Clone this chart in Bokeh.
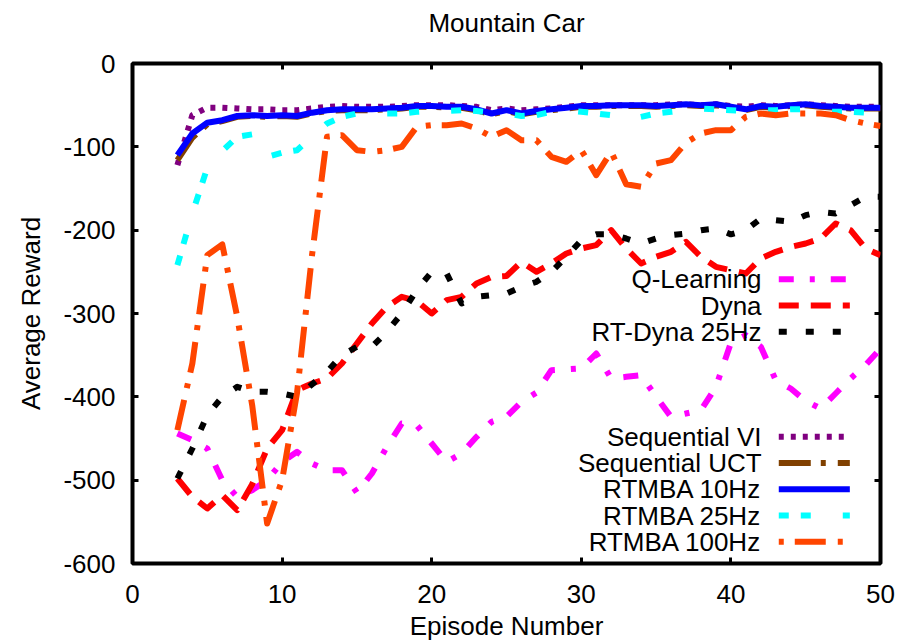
from bokeh.plotting import figure
from bokeh.models import LinearAxis, Range1d, FixedTicker, Label, CustomJSTickFormatter
from bokeh.core.properties import value
from bokeh.embed import file_html
from bokeh.resources import INLINE

FONT = "Liberation Sans"
FS = "26px"

episodes = list(range(3, 51))

q_learning = [-444, -452, -462, -500, -520, -512, -500, -478, -466, -480, -488, -488,
              -515, -492, -460, -432, -434, -456, -478, -468, -448, -430, -424, -406,
              -395, -368, -367, -366, -348, -378, -376, -374, -400, -424, -420, -416,
              -388, -335, -326, -340, -380, -390, -405, -414, -396, -378, -362, -342]

dyna = [-498, -520, -534, -518, -536, -505, -462, -440, -392, -384, -378, -360,
        -336, -312, -292, -280, -285, -300, -284, -280, -264, -256, -255, -238,
        -250, -240, -228, -222, -218, -200, -222, -240, -232, -226, -214, -232,
        -244, -248, -252, -234, -226, -220, -216, -210, -192, -200, -222, -230]

rt_dyna = [-498, -462, -422, -400, -388, -394, -394, -396, -400, -385, -370, -350,
           -340, -340, -322, -300, -272, -250, -252, -288, -280, -278, -276, -268,
           -262, -250, -232, -212, -205, -205, -210, -216, -210, -206, -204, -200,
           -198, -205, -200, -186, -188, -190, -182, -178, -180, -170, -160, -160]

seq_vi = [-122, -62, -53, -53, -54, -55, -55, -56, -56, -54, -52, -51,
          -52, -52, -52, -51, -50, -50, -50, -51, -52, -56, -54, -56,
          -55, -54, -52, -50, -50, -50, -50, -50, -50, -49, -49, -50,
          -49, -51, -52, -50, -51, -50, -49, -50, -51, -52, -52, -52]

seq_uct = [-116, -89, -73, -69, -64, -63, -64, -63, -64, -60, -57, -56,
           -56, -56, -55, -54, -52, -52, -53, -53, -56, -61, -57, -61,
           -58, -56, -54, -52, -52, -51, -51, -51, -52, -51, -50, -51,
           -50, -53, -56, -52, -53, -51, -50, -52, -53, -54, -54, -54]

rtmba_10 = [-110, -84, -71, -68, -63, -62, -63, -62, -63, -59, -56, -55,
            -55, -55, -54, -53, -51, -51, -52, -52, -55, -60, -56, -60,
            -57, -55, -53, -51, -51, -50, -50, -50, -51, -50, -49, -50,
            -49, -52, -55, -51, -52, -50, -49, -51, -52, -53, -53, -53]

rtmba_25 = [-242, -180, -125, -105, -88, -85, -112, -107, -104, -88, -72, -64,
            -60, -60, -60, -60, -58, -57, -57, -56, -57, -59, -60, -63,
            -62, -58, -56, -58, -60, -62, -68, -64, -60, -58, -56, -54,
            -55, -56, -57, -56, -56, -55, -55, -57, -58, -58, -59, -59]

rtmba_100 = [-440, -360, -230, -217, -304, -410, -552, -500, -395, -230, -88, -86,
             -104, -106, -104, -100, -76, -74, -74, -72, -78, -88, -80, -92,
             -92, -112, -118, -104, -134, -106, -145, -148, -120, -116, -95, -84,
             -80, -80, -64, -60, -62, -60, -60, -60, -62, -68, -72, -75]

x_tick_values = [0, 10, 20, 30, 40, 50]
y_tick_values = [-600, -500, -400, -300, -200, -100, 0]

top_labels = ["Q-Learning", "Dyna", "RT-Dyna 25Hz"]
bottom_labels = ["Sequential VI", "Sequential UCT", "RTMBA 10Hz", "RTMBA 25Hz", "RTMBA 100Hz"]

# (values, colour, dash pattern, key dash offset) in drawing order
series = [
    (q_learning, "#ff00ff", "15 16 5 16", 0),
    (dyna, "#ff0000", "20 12", 0),
    (rt_dyna, "#000000", "8 19", 0),
    (seq_vi, "#800080", "5 7", 0),
    (seq_uct, "#804000", "32 10 5 12", 0),
    (rtmba_10, "#0000ff", "solid", 0),
    (rtmba_25, "#00ffff", "10 12 10 32", 0),
    (rtmba_100, "#ff4500", "31 12 5 11", 43),
]
LINE_W = 6

p = figure(width=902, height=644, output_backend="svg", toolbar_location=None,
           x_range=Range1d(0, 50), y_range=Range1d(-600, 0),
           min_border_left=132, min_border_right=22, min_border_top=63,
           min_border_bottom=81, x_axis_label="Episode Number",
           y_axis_label="Average Reward")

p.grid.visible = False
p.outline_line_color = "black"
p.outline_line_width = 4
p.background_fill_color = "white"
p.border_fill_color = "white"

x_ticks = FixedTicker(ticks=x_tick_values)
y_ticks = FixedTicker(ticks=y_tick_values)

for ax in (p.xaxis[0], p.yaxis[0]):
    ax.axis_line_color = None
    ax.major_tick_in = 6
    ax.major_tick_out = 0
    ax.major_tick_line_width = 3
    ax.minor_tick_line_color = None
    ax.major_label_text_font = FONT
    ax.major_label_text_font_size = FS
    ax.major_label_text_color = "black"
    ax.axis_label_text_font = FONT
    ax.axis_label_text_font_size = FS
    ax.axis_label_text_font_style = "normal"
    ax.axis_label_text_color = "black"
p.xaxis[0].ticker = x_ticks
p.yaxis[0].ticker = y_ticks
# plain hyphen-minus in the tick labels
p.yaxis[0].major_label_overrides = {v: str(v) for v in y_tick_values}
p.xaxis[0].major_label_standoff = 21
p.xaxis[0].axis_label_standoff = 5
p.yaxis[0].major_label_standoff = 17
p.yaxis[0].axis_label_standoff = 14

# mirrored tick marks on the top and right edges, without labels
for loc, tk in (("above", x_ticks), ("right", y_ticks)):
    ax = LinearAxis(ticker=tk, axis_line_color=None, major_tick_in=6,
                    major_tick_out=0, major_tick_line_width=3,
                    minor_tick_line_color=None, major_label_standoff=0,
                    formatter=CustomJSTickFormatter(code="return ''"))
    p.add_layout(ax, loc)

# chart title in the top margin, centred over the frame
p.add_layout(Label(x=25, y=41, x_units="data", y_units="screen",
                   text="Mountain Car", text_align="center",
                   text_baseline="middle", text_font=FONT, text_font_size=FS,
                   text_color="black"), "above")

for vals, color, dash, _ in series:
    p.line(episodes, vals, line_color=color, line_dash=dash, line_width=LINE_W,
           line_join="round")

# gnuplot-style keys: right-aligned text followed by a line sample
KEY_TEXT_X = 42.05
KEY_X0, KEY_X1 = 43.2, 47.95
KEY_STEP = 31.5
top_rows = [-259 - i * KEY_STEP for i in range(len(top_labels))]
bottom_rows = [-448 - i * KEY_STEP for i in range(len(bottom_labels))]

p.text(x=[KEY_TEXT_X] * len(top_rows), y=top_rows, text=top_labels,
       text_align="right", text_baseline="middle", text_font=value(FONT),
       text_font_size=FS, text_color="black")
p.text(x=[KEY_TEXT_X] * len(bottom_rows), y=bottom_rows, text=bottom_labels,
       text_align="right", text_baseline="middle", text_font=value(FONT),
       text_font_size=FS, text_color="black")

for yk, (vals, color, dash, off) in zip(top_rows + bottom_rows, series):
    p.line([KEY_X0, KEY_X1], [yk, yk], line_color=color, line_dash=dash,
           line_dash_offset=off, line_width=LINE_W)

open("out.html", "w").write(file_html(p, INLINE))
